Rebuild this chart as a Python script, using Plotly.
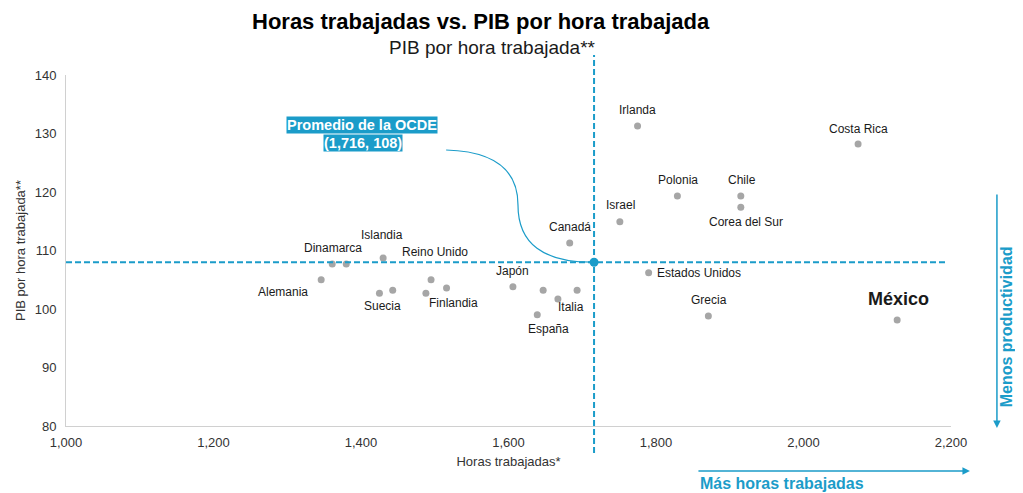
import plotly.graph_objects as go

# ---- data ----
countries = ["Irlanda", "Costa Rica", "Polonia", "Chile", "Corea del Sur", "Israel", "Canadá",
             "Estados Unidos", "Grecia", "México", "Japón", "", "", "Italia", "España",
             "Dinamarca", "", "Islandia", "Alemania", "Suecia", "", "Reino Unido", "", "Finlandia"]
hours = [1775, 2074, 1829, 1915, 1915, 1751, 1683,
         1790, 1871, 2127, 1606, 1647, 1693, 1667, 1639,
         1361, 1380, 1430, 1346, 1425, 1443, 1495, 1488, 1516]
gdp_per_hour = [131.3, 128.2, 119.3, 119.3, 117.4, 114.9, 111.3,
                106.2, 98.8, 98.1, 103.8, 103.2, 103.2, 101.7, 99.0,
                107.7, 107.7, 108.7, 105.0, 102.7, 103.2, 105.0, 102.7, 103.6]
oecd_hours = 1716
oecd_gdp = 108
x_ticks = [1000, 1200, 1400, 1600, 1800, 2000, 2200]
y_ticks = [80, 90, 100, 110, 120, 130, 140]

# ---- label placement (pixel offsets, style only) ----
label_offsets = {
    "Irlanda": (0, 16, "center"), "Costa Rica": (0, 15, "center"), "Polonia": (1, 16, "center"),
    "Chile": (1, 16, "center"), "Corea del Sur": (5, -15, "center"), "Israel": (1, 17, "center"),
    "Canadá": (0, 16, "center"), "Estados Unidos": (6, 0, "left"), "Grecia": (1, 16, "center"),
    "México": (1, 21, "center"), "Japón": (0, 16, "center"), "Italia": (13, -8, "center"),
    "España": (11, -14, "center"), "Dinamarca": (1, 16, "center"), "Islandia": (-1, 23, "center"),
    "Alemania": (-38, -12, "center"), "Suecia": (3, -13, "center"), "Reino Unido": (4, 28, "center"),
    "Finlandia": (7, -15, "center"),
}

BLUE = "#1b9cc9"
FONT = "Liberation Sans, Arial, sans-serif"

fig = go.Figure()
fig.add_trace(go.Scatter(x=hours, y=gdp_per_hour, mode="markers", text=countries,
                         marker=dict(color="#a6a6a6", size=7), hoverinfo="text+x+y"))
fig.add_trace(go.Scatter(x=[oecd_hours], y=[oecd_gdp], mode="markers",
                         marker=dict(color=BLUE, size=9), hoverinfo="x+y"))

# dashed average lines
fig.add_shape(type="line", xref="x", yref="y", x0=x_ticks[0], x1=x_ticks[-1] - 5,
              y0=oecd_gdp, y1=oecd_gdp, line=dict(color=BLUE, width=2, dash="6px,3px"))
fig.add_shape(type="line", xref="x", yref="paper", x0=oecd_hours, x1=oecd_hours,
              y0=-0.077, y1=1.057, line=dict(color=BLUE, width=2, dash="6px,3px"))

# curved connector from OCDE label to the average point
def px2x(px):
    return x_ticks[0] + (px - 64) / ((951 - 64) / (x_ticks[-1] - x_ticks[0]))

def py2y(py):
    return y_ticks[-1] - (py - 75) / ((426 - 75) / (y_ticks[-1] - y_ticks[0]))

path = (f"M {px2x(445)},{py2y(150)} Q {px2x(517)},{py2y(152)} {px2x(517)},{py2y(205)} "
        f"Q {px2x(517)},{py2y(263)} {oecd_hours},{oecd_gdp}")
fig.add_shape(type="path", xref="x", yref="y", path=path, line=dict(color=BLUE, width=1.2))

annotations = []
for name, hx, gy in zip(countries, hours, gdp_per_hour):
    if not name:
        continue
    dx, dy, anchor = label_offsets[name]
    big = name == "México"
    annotations.append(dict(
        x=hx, y=gy, xref="x", yref="y", text=f"<b>{name}</b>" if big else name,
        showarrow=False, xshift=dx, yshift=dy, xanchor=anchor, yanchor="middle",
        font=dict(family=FONT, size=18 if big else 12, color="#1a1a1a")))

def paper_text(x, y, text, size, color, **kw):
    d = dict(xref="paper", yref="paper", x=x, y=y, text=text, showarrow=False,
             xanchor="center", yanchor="middle", font=dict(family=FONT, size=size, color=color))
    d.update(kw)
    return d

annotations += [
    paper_text(0.3343, 0.8575, "<b>Promedio de la OCDE</b>", 14.5, "white", bgcolor=BLUE, borderpad=0),
    paper_text(0.3354, 0.8063, f"<b>({oecd_hours:,}, {oecd_gdp})</b>", 14.5, "white", bgcolor=BLUE, borderpad=0),
    paper_text(0.469, 1.153, "<b>Horas trabajadas vs. PIB por hora trabajada</b>", 22, "#000"),
    paper_text(0.4814, 1.079, "PIB por hora trabajada**", 19, "#1a1a1a"),
    dict(xref="paper", yref="paper", x=1.0214, y=-0.1282, ax=-273, ay=0, axref="pixel", ayref="pixel",
         text="", showarrow=True, arrowhead=2, arrowsize=1, arrowwidth=1.5, arrowcolor=BLUE),
    dict(xref="paper", yref="paper", x=1.0519, y=-0.0057, ax=0, ay=-235, axref="pixel", ayref="pixel",
         text="", showarrow=True, arrowhead=2, arrowsize=1, arrowwidth=1.5, arrowcolor=BLUE),
    paper_text(0.8095, -0.1624, "<b>Más horas trabajadas</b>", 16, BLUE),
    paper_text(1.0625, 0.282, "<b>Menos productividad</b>", 16, BLUE, textangle=-90),
]

fig.update_layout(
    width=1015, height=485, showlegend=False,
    margin=dict(l=56, r=72, t=67, b=67),
    paper_bgcolor="white", plot_bgcolor="white",
    font=dict(family=FONT, size=13, color="#333"),
    annotations=annotations,
    xaxis=dict(range=[x_ticks[0], x_ticks[-1]], tickvals=x_ticks,
               ticktext=[f"{v:,}" for v in x_ticks], showgrid=False, zeroline=False,
               showline=True, linecolor="#d0d0d0", linewidth=1, ticks="", ticklabelstandoff=4,
               title=dict(text="Horas trabajadas*", font=dict(size=13, color="#333"), standoff=8),
               tickfont=dict(size=13, color="#333")),
    yaxis=dict(range=[y_ticks[0], y_ticks[-1]], tickvals=y_ticks, showgrid=False, zeroline=False,
               showline=True, linecolor="#d0d0d0", linewidth=1, ticks="", ticklabelstandoff=6,
               title=dict(text="PIB por hora trabajada**", font=dict(size=13, color="#333"), standoff=6),
               tickfont=dict(size=13, color="#333")),
)

fig.write_html("out.html")
